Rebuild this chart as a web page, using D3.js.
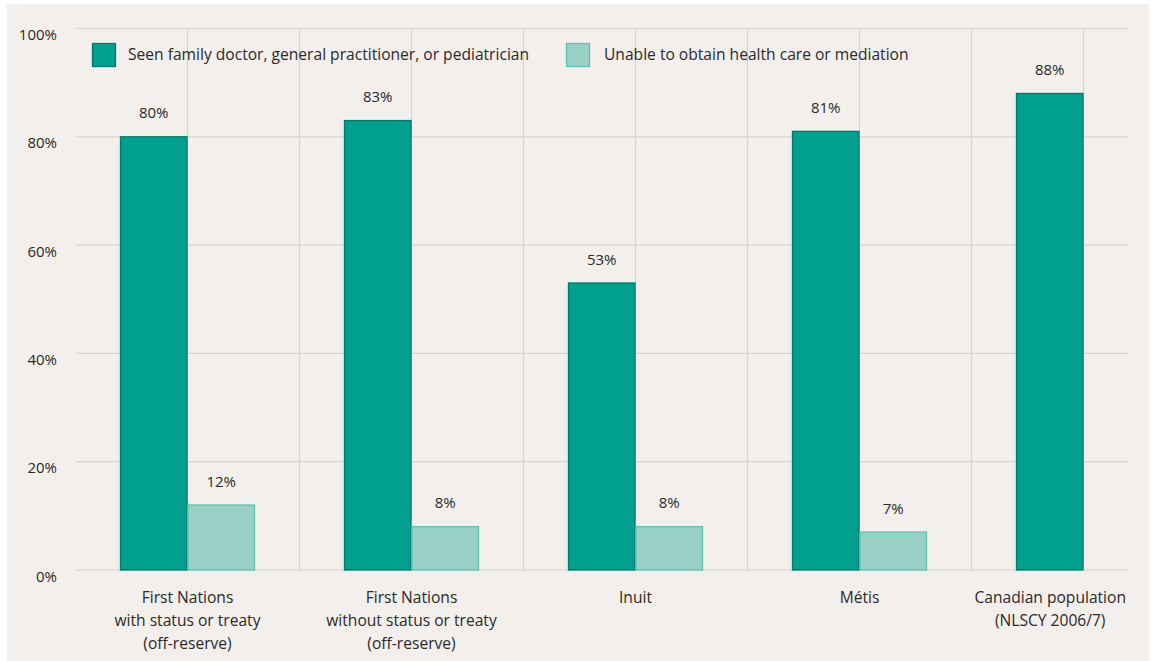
<!DOCTYPE html>
<html><head><meta charset="utf-8">
<script src="https://cdn.jsdelivr.net/npm/d3@7"></script>
<style>
html,body{margin:0;padding:0;background:#fff;}
text{font-family:"Open Sans","Noto Sans",sans-serif;fill:#2b2a29;}
</style></head>
<body>
<svg id="chart" width="1158" height="661"></svg>
<script>
const categories = [
  ["First Nations","with status or treaty","(off-reserve)"],
  ["First Nations","without status or treaty","(off-reserve)"],
  ["Inuit"],
  ["Métis"],
  ["Canadian population","(NLSCY 2006/7)"]
];
const seriesNames = ["Seen family doctor, general practitioner, or pediatrician","Unable to obtain health care or mediation"];
const seenDoctor = [80, 83, 53, 81, 88];
const unableCare = [12, 8, 8, 7, null];
const yTicks = [0, 20, 40, 60, 80, 100];

(function(){
const svg = d3.select("#chart");
const pLeft = 75.5, pRight = 1128, pTop = 28.5, pBottom = 570;
const wordSize = 15.6;

svg.append("rect").attr("x",7).attr("y",4).attr("width",1142).attr("height",657).attr("fill","#f3efec");

const x = d3.scaleBand().domain(d3.range(categories.length)).range([pLeft, pLeft + 224*categories.length]).padding(0);
const y = d3.scaleLinear().domain([0,100]).range([pBottom, pTop]);
const barW = 67.5;
const grid = "#d7d2cd";

svg.append("g").selectAll("line").data(yTicks).join("line")
  .attr("x1", pLeft+1).attr("x2", pRight).attr("y1", d=>y(d)).attr("y2", d=>y(d))
  .attr("stroke", grid).attr("stroke-width", 1.2);

const vlines = [];
categories.forEach((c,i)=>{ vlines.push(x(i)+x.bandwidth()/2); if(i>0) vlines.push(x(i)); });
svg.append("g").selectAll("line").data(vlines.filter(v=>v<pRight)).join("line")
  .attr("x1", d=>d).attr("x2", d=>d).attr("y1", y(100)).attr("y2", y(0))
  .attr("stroke", grid).attr("stroke-width", 1.2);

svg.append("g").selectAll("text").data(yTicks).join("text")
  .attr("x", 57).attr("y", d=>y(d)+11.5).attr("text-anchor","end")
  .attr("font-size", 15).text(d=>d+"%");

const colors = [{fill:"#00a08f", stroke:"#00786b"},{fill:"#99d0c6", stroke:"#5cc2b2"}];
const series = [seenDoctor, unableCare];
series.forEach((vals, s)=>{
  const g = svg.append("g");
  const data = vals.map((v,i)=>({v,i})).filter(d=>d.v!=null);
  g.selectAll("rect").data(data).join("rect")
    .attr("x", d=>x(d.i)+x.bandwidth()/2 - barW + s*barW + 0.5)
    .attr("y", d=>y(d.v))
    .attr("width", barW - 1)
    .attr("height", d=>y(0)-y(d.v))
    .attr("fill", colors[s].fill).attr("stroke", colors[s].stroke).attr("stroke-width",1.3);
  g.selectAll("text").data(data).join("text")
    .attr("x", d=>x(d.i)+x.bandwidth()/2 - barW/2 + s*barW)
    .attr("y", d=>y(d.v)-18.5)
    .attr("text-anchor","middle").attr("font-size",15)
    .text(d=>d.v+"%");
});

categories.forEach((lines,i)=>{
  const t = svg.append("text").attr("text-anchor","middle").attr("font-size",wordSize);
  const cx = x(i)+x.bandwidth()/2;
  lines.forEach((ln,j)=>{
    t.append("tspan").attr("x", cx).attr("y", 603 + j*23).text(ln);
  });
  const bb = t.node().getBBox();
  if (bb.x + bb.width > pRight - 2) {
    const shift = bb.x + bb.width - (pRight - 2);
    t.selectAll("tspan").attr("x", cx - shift);
  }
});

const leg = [{x:92, tx:128},{x:566, tx:604}];
leg.forEach((l,s)=>{
  svg.append("rect").attr("x", l.x+0.5).attr("y", 43.5).attr("width",23).attr("height",23)
    .attr("fill", colors[s].fill).attr("stroke", colors[s].stroke).attr("stroke-width",1.3);
  svg.append("text").attr("x", l.tx).attr("y", 60).attr("font-size",wordSize).text(seriesNames[s]);
});
})();
</script>
</body></html>
